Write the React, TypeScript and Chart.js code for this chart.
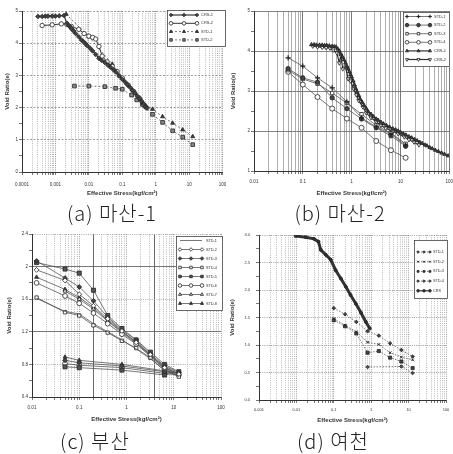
import React, { useEffect, useRef } from 'react';
import { Chart, registerables } from 'chart.js';
import { drawPoint } from 'chart.js/helpers';

Chart.register(...registerables);
Chart.defaults.font.family = "'Liberation Sans', Arial, sans-serif";
Chart.defaults.color = '#333';

// ---------------- (a) 마산-1 ----------------
const aXTickLabels = ['0.0001', '0.001', '0.01', '0.1', '1', '10', '100'];
const aYTickLabels = ['0', '1', '2', '3', '4', '5'];
const aCrs1X = [0.0003, 0.0004, 0.0005, 0.0006, 0.0008, 0.001, 0.0013, 0.0018, 0.0022, 0.0025, 0.0028, 0.003, 0.0035, 0.004, 0.005, 0.006, 0.007, 0.008, 0.009, 0.011, 0.013, 0.016, 0.02, 0.024, 0.03, 0.037, 0.045, 0.055, 0.065, 0.08, 0.1, 0.12, 0.14, 0.17, 0.2, 0.24, 0.28, 0.33, 0.38, 0.44, 0.5, 0.55];
const aCrs1Y = [4.83, 4.83, 4.84, 4.84, 4.84, 4.84, 4.85, 4.86, 4.62, 4.55, 4.5, 4.45, 4.38, 4.3, 4.2, 4.1, 4.04, 3.98, 3.92, 3.84, 3.76, 3.65, 3.53, 3.47, 3.4, 3.32, 3.25, 3.17, 3.1, 2.98, 2.88, 2.8, 2.72, 2.63, 2.54, 2.45, 2.36, 2.28, 2.2, 2.11, 2.03, 1.98];
const aCrs2X = [0.0004, 0.0008, 0.0015, 0.0022, 0.003, 0.005, 0.0072, 0.01, 0.013, 0.016, 0.02, 0.025, 0.035, 0.05, 0.07, 0.1, 0.15, 0.22, 0.32, 0.45, 0.5];
const aCrs2Y = [4.55, 4.57, 4.6, 4.58, 4.52, 4.43, 4.3, 4.22, 4.18, 4.13, 3.9, 3.6, 3.42, 3.28, 3.12, 2.92, 2.7, 2.5, 2.3, 2.08, 2.02];
const aStd1X = [0.0021, 0.01, 0.05, 0.2, 0.4, 0.8, 1.6, 3.2, 6.4, 12.8];
const aStd1Y = [4.9, 4.2, 3.35, 2.55, 2.15, 1.95, 1.72, 1.52, 1.31, 1.1];
const aStd2X = [0.0037, 0.01, 0.03, 0.063, 0.1, 0.19, 0.27, 0.4, 0.8, 1.6, 3.2, 6.4, 12.8];
const aStd2Y = [2.67, 2.67, 2.65, 2.6, 2.57, 2.39, 2.24, 2.1, 1.79, 1.54, 1.28, 1.08, 0.85];

// ---------------- (b) 마산-2 ----------------
const bXTickLabels = ['0.01', '0.1', '1', '10', '100'];
const bYTickLabels = ['1', '2', '3', '4', '5'];
const bStdX = [0.05, 0.1, 0.2, 0.4, 0.8, 1.6, 3.2, 6.4, 12.8];
const bStd1Y = [3.83, 3.62, 3.33, 3.08, 2.73, 2.33, 2.1, 1.93, 1.64];
const bStd2Y = [3.56, 3.33, 3.22, 2.83, 2.56, 2.3, 2.08, 1.88, 1.62];
const bStd3Y = [3.52, 3.3, 3.18, 2.95, 2.7, 2.42, 2.14, 1.95, 1.68];
const bStd4Y = [3.48, 3.16, 2.85, 2.56, 2.31, 2.08, 1.75, 1.52, 1.33];
const bCrs1X = [0.15, 0.17, 0.19, 0.22, 0.25, 0.28, 0.31, 0.35, 0.4, 0.44, 0.48, 0.52, 0.56, 0.6, 0.65, 0.7, 0.75, 0.8, 0.85, 0.9, 0.95, 1.0, 1.08, 1.15, 1.22, 1.3, 1.4, 1.5, 1.65, 1.8, 2.0, 2.2, 2.5, 2.8, 3.2, 3.5, 4, 4.5, 5.2, 6, 7, 8, 9, 10, 11.5, 13, 15, 17, 19.5, 22, 25, 28, 32, 35, 40, 45, 52, 60, 70, 80, 95];
const bCrs1Y = [4.16, 4.16, 4.15, 4.15, 4.15, 4.14, 4.14, 4.13, 4.12, 4.11, 4.1, 4.05, 4.0, 3.92, 3.85, 3.78, 3.7, 3.62, 3.55, 3.48, 3.41, 3.35, 3.25, 3.15, 3.06, 2.98, 2.89, 2.8, 2.72, 2.64, 2.56, 2.48, 2.42, 2.36, 2.3, 2.27, 2.22, 2.18, 2.14, 2.1, 2.06, 2.03, 2.0, 1.97, 1.93, 1.9, 1.86, 1.83, 1.79, 1.76, 1.72, 1.69, 1.65, 1.63, 1.59, 1.56, 1.52, 1.49, 1.45, 1.42, 1.38];
const bCrs2X = [0.16, 0.2, 0.25, 0.3, 0.36, 0.42, 0.5, 0.56, 0.6, 0.66, 0.75, 0.85, 0.95, 1.1, 1.25, 1.4, 1.7, 2.0, 2.5, 3.2, 4, 5, 7, 9, 12, 15, 19, 24];
const bCrs2Y = [4.12, 4.1, 4.09, 4.08, 4.07, 4.02, 3.95, 3.7, 3.9, 3.55, 3.6, 3.3, 3.25, 3.05, 2.9, 2.76, 2.6, 2.45, 2.33, 2.23, 2.14, 2.07, 1.99, 1.93, 1.85, 1.78, 1.72, 1.65];

// ---------------- (c) 부산 ----------------
const cXTickLabels = ['0.01', '0.1', '1', '10', '100'];
const cYTickLabels = ['0.4', '0.8', '1.2', '1.6', '2', '2.4'];
const cLoadX = [0.0125, 0.05, 0.1, 0.2, 0.4, 0.8, 1.6, 3.2, 6.4, 12.8];
const cUnloadX = [6.4, 0.8, 0.1, 0.05];
const cS1Y = [1.61, 1.45, 1.42, 1.3, 1.2, 1.1, 0.99, 0.87, 0.73, 0.66];
const cS2Y = [1.96, 1.83, 1.66, 1.52, 1.36, 1.21, 1.07, 0.92, 0.76, 0.68];
const cS3Y = [2.07, 1.86, 1.75, 1.58, 1.38, 1.22, 1.1, 0.93, 0.78, 0.7, 0.71, 0.78, 0.82, 0.85];
const cS4Y = [1.62, 1.44, 1.4, 1.28, 1.19, 1.09, 1.0, 0.88, 0.72, 0.65];
const cS5Y = [2.05, 1.97, 1.92, 1.71, 1.4, 1.24, 1.1, 0.95, 0.8, 0.71, 0.67, 0.73, 0.76, 0.77];
const cS6Y = [1.8, 1.64, 1.55, 1.43, 1.3, 1.17, 1.05, 0.9, 0.74, 0.67, 0.69, 0.76, 0.79, 0.81];
const cS7X = [0.05, 0.1, 0.2, 0.4, 0.8, 1.6, 3.2, 6.4, 12.8];
const cS7Y = [1.7, 1.6, 1.48, 1.33, 1.19, 1.06, 0.91, 0.77, 0.68];
const cS8Y = [1.87, 1.72, 1.62, 1.5, 1.34, 1.2, 1.08, 0.91, 0.75, 0.69, 0.72, 0.8, 0.85, 0.89];

// ---------------- (d) 여천 ----------------
const dXTickLabels = ['0.001', '0.01', '0.1', '1', '10', '100'];
const dYTickLabels = ['0.0', '0.5', '1.0', '1.5', '2.0', '2.5', '3.0'];
const dStdX = [0.1, 0.2, 0.4, 0.8, 1.6, 3.2, 6.4, 12.8];
const dStd1Y = [1.67, 1.56, 1.42, 1.25, 1.17, 1.03, 0.91, 0.79];
const dStd2Y = [1.48, 1.36, 1.24, 1.05, 1.01, 0.86, 0.78, 0.73];
const dStd3Y = [1.45, 1.34, 1.21, 0.86, 0.89, 0.77, 0.7, 0.58];
const dStd4X = [0.8, 6.4, 12.8];
const dStd4Y = [0.6, 0.61, 0.49];
const dCrsX = [0.0096, 0.0178, 0.0296, 0.0389, 0.0448, 0.061, 0.083, 0.112, 0.154, 0.21, 0.28, 0.39, 0.53, 0.72, 0.92];
const dCrsY = [2.98, 2.96, 2.93, 2.88, 2.73, 2.64, 2.55, 2.36, 2.21, 2.06, 1.91, 1.75, 1.59, 1.42, 1.3];

// ---------------- helpers ----------------
interface St { ps: any; r: number; fill: string; stroke?: string; lw: number; dash?: number[]; color?: string; rot?: number; pbw?: number }

function ds(label: string, xs: number[], ys: number[], s: St) {
  return {
    label,
    data: xs.map((x, i) => ({ x, y: ys[i] })),
    showLine: true,
    borderColor: s.color ?? '#333',
    backgroundColor: s.fill,
    borderWidth: s.lw,
    borderDash: s.dash ?? [],
    pointStyle: s.ps,
    pointRadius: s.r,
    pointHoverRadius: s.r,
    pointRotation: s.rot ?? 0,
    pointBackgroundColor: s.fill,
    pointBorderColor: s.stroke ?? '#222',
    pointBorderWidth: s.pbw ?? 0.8,
  };
}

function logTicks(decades: number[]) {
  const out: number[] = [];
  for (let i = 0; i < decades.length - 1; i++) {
    for (let m = 1; m <= 9; m++) out.push(+(m * decades[i]).toPrecision(3));
  }
  out.push(decades[decades.length - 1]);
  return out;
}
function isDecade(v: number, decades: number[]) {
  return decades.findIndex((d) => Math.abs(v / d - 1) < 1e-6);
}

interface LegendCfg { x: number; y: number; w: number; h: number; row0: number; rowH: number; x0: number; x1: number; tx: number; r: number; font: number }

function legendPlugin(cfg: LegendCfg) {
  return {
    id: 'boxLegend',
    afterDraw(chart: any) {
      const ctx = chart.ctx as CanvasRenderingContext2D;
      ctx.save();
      ctx.fillStyle = '#fff';
      ctx.fillRect(cfg.x, cfg.y, cfg.w, cfg.h);
      ctx.strokeStyle = '#444';
      ctx.lineWidth = 0.8;
      ctx.strokeRect(cfg.x + 0.5, cfg.y + 0.5, cfg.w - 1, cfg.h - 1);
      chart.data.datasets.forEach((d: any, i: number) => {
        const y = cfg.row0 + i * cfg.rowH;
        ctx.strokeStyle = d.borderColor;
        ctx.lineWidth = Math.min(d.borderWidth, 1.2);
        ctx.setLineDash(d.borderDash || []);
        ctx.beginPath();
        ctx.moveTo(cfg.x0, y);
        ctx.lineTo(cfg.x1, y);
        ctx.stroke();
        ctx.setLineDash([]);
        if (d.pointStyle) {
          [cfg.x0, (cfg.x0 + cfg.x1) / 2, cfg.x1].forEach((mx) => {
            ctx.fillStyle = d.pointBackgroundColor;
            ctx.strokeStyle = d.pointBorderColor;
            ctx.lineWidth = d.pointBorderWidth;
            drawPoint(ctx, { pointStyle: d.pointStyle, rotation: d.pointRotation, radius: cfg.r, borderWidth: d.pointBorderWidth }, mx, y);
          });
        }
        ctx.fillStyle = '#333';
        ctx.font = `${cfg.font}px 'Liberation Sans', Arial, sans-serif`;
        ctx.textBaseline = 'middle';
        ctx.textAlign = 'left';
        ctx.fillText(d.label, cfg.tx, y);
      });
      ctx.restore();
    },
  };
}

interface PanelDef {
  w: number; h: number;
  pad: { left: number; top: number; right: number; bottom: number };
  yWidth: number; xHeight: number;
  xLabels: string[]; yLabels: string[];
  xTickPad: number; yTickPad: number; tickFont: number;
  xGridColor: (v: number, dec: boolean) => string;
  xGridDash: (v: number, dec: boolean) => number[];
  yGridColor: (v: number) => string;
  yGridDash: (v: number) => number[];
  legend: LegendCfg;
  datasets: any[];
}

function buildConfig(p: PanelDef): any {
  const decades = p.xLabels.map(Number);
  const xTicks = logTicks(decades);
  const yMaj = p.yLabels.map(Number);
  const yTicks: number[] = [];
  yMaj.forEach((v, i) => {
    yTicks.push(v);
    if (i < yMaj.length - 1) yTicks.push(+((v + yMaj[i + 1]) / 2).toFixed(4));
  });
  const yIdx = (v: number) => yMaj.findIndex((m) => Math.abs(m - v) < 1e-6);
  return {
    type: 'scatter',
    data: { datasets: p.datasets },
    options: {
      animation: false,
      responsive: false,
      maintainAspectRatio: false,
      layout: { padding: p.pad },
      plugins: { legend: { display: false }, tooltip: { enabled: false } },
      scales: {
        x: {
          type: 'logarithmic',
          min: decades[0],
          max: decades[decades.length - 1],
          afterBuildTicks: (s: any) => { s.ticks = xTicks.map((v) => ({ value: v })); },
          afterFit: (s: any) => { s.height = p.xHeight; s.paddingLeft = 0; s.paddingRight = 0; },
          ticks: {
            autoSkip: false, maxRotation: 0, minRotation: 0,
            padding: p.xTickPad,
            font: { size: p.tickFont },
            color: '#333',
            callback: (v: any) => { const i = isDecade(Number(v), decades); return i >= 0 ? p.xLabels[i] : ''; },
          },
          grid: {
            tickLength: 3,
            tickColor: '#555',
            lineWidth: 0.8,
            color: (c: any) => (c.tick ? p.xGridColor(c.tick.value, isDecade(c.tick.value, decades) >= 0) : '#999'),
          },
          border: {
            color: '#333', width: 1,
            dash: (c: any) => (c.tick ? p.xGridDash(c.tick.value, isDecade(c.tick.value, decades) >= 0) : []),
          },
          title: { display: true, text: 'Effective Stress(kgf/cm²)', font: { size: 6, weight: 'bold' }, color: '#333', padding: 0 },
        },
        y: {
          type: 'linear',
          min: yMaj[0],
          max: yMaj[yMaj.length - 1],
          afterBuildTicks: (s: any) => { s.ticks = yTicks.map((v) => ({ value: v })); },
          afterFit: (s: any) => { s.width = p.yWidth; s.paddingTop = 0; s.paddingBottom = 0; },
          ticks: {
            padding: p.yTickPad,
            font: { size: p.tickFont },
            color: '#333',
            callback: (v: any) => { const i = yIdx(Number(v)); return i >= 0 ? p.yLabels[i] : ''; },
          },
          grid: {
            tickLength: 3,
            tickColor: '#555',
            lineWidth: 0.8,
            color: (c: any) => (c.tick && yIdx(c.tick.value) >= 0 ? p.yGridColor(c.tick.value) : 'rgba(0,0,0,0)'),
          },
          border: {
            color: '#333', width: 1,
            dash: (c: any) => (c.tick ? p.yGridDash(c.tick.value) : []),
          },
          title: { display: true, text: 'Void Ratio(e)', font: { size: 6, weight: 'bold' }, color: '#333', padding: 0 },
        },
      },
    },
    plugins: [legendPlugin(p.legend)],
  };
}

const DOT = [1, 1.2];

const panelA = (): PanelDef => ({
  w: 226, h: 200,
  pad: { left: 4, top: 11, right: 1, bottom: 3 },
  yWidth: 18, xHeight: 25,
  xLabels: aXTickLabels, yLabels: aYTickLabels,
  xTickPad: 7, yTickPad: 1, tickFont: 4.5,
  xGridColor: (_v, dec) => (dec ? '#777' : '#aaa'),
  xGridDash: () => DOT,
  yGridColor: () => '#888',
  yGridDash: () => [2, 1.5],
  legend: { x: 167, y: 10, w: 59, h: 37, row0: 15, rowH: 8.3, x0: 171, x1: 197, tx: 201, r: 1.8, font: 4 },
  datasets: [
    ds('CRS-1', aCrs1X, aCrs1Y, { ps: 'rectRot', r: 2.3, fill: '#444', lw: 1.2 }),
    ds('CRS-2', aCrs2X, aCrs2Y, { ps: 'circle', r: 2.2, fill: '#fff', lw: 1 }),
    ds('STD-1', aStd1X, aStd1Y, { ps: 'triangle', r: 2.3, fill: '#444', lw: 0.8, dash: [2, 2], color: '#555' }),
    ds('STD-2', aStd2X, aStd2Y, { ps: 'rect', r: 2.6, fill: '#888', lw: 0.8, dash: [2, 2], color: '#555' }),
  ],
});

const panelB = (): PanelDef => ({
  w: 227, h: 200,
  pad: { left: 4, top: 11, right: 3, bottom: 3 },
  yWidth: 24, xHeight: 26,
  xLabels: bXTickLabels, yLabels: bYTickLabels,
  xTickPad: 5, yTickPad: 1, tickFont: 4.5,
  xGridColor: (_v, dec) => (dec ? '#555' : '#999'),
  xGridDash: () => [],
  yGridColor: () => '#666',
  yGridDash: () => [],
  legend: { x: 177, y: 12, w: 47, h: 55, row0: 16.5, rowH: 8.6, x0: 181, x1: 204, tx: 208, r: 1.8, font: 4 },
  datasets: [
    ds('STD-1', bStdX, bStd1Y, { ps: 'cross', r: 2.6, fill: '#333', stroke: '#222', lw: 0.8, color: '#555', pbw: 1.2 }),
    ds('STD-2', bStdX, bStd2Y, { ps: 'circle', r: 2.2, fill: '#444', lw: 0.8, color: '#555' }),
    ds('STD-3', bStdX, bStd3Y, { ps: 'rect', r: 2.4, fill: '#fff', lw: 0.8, color: '#555' }),
    ds('STD-4', bStdX, bStd4Y, { ps: 'circle', r: 2.5, fill: '#fff', lw: 0.8, color: '#555' }),
    ds('CRS-1', bCrs1X, bCrs1Y, { ps: 'triangle', r: 2.2, fill: '#444', lw: 1.6, color: '#333' }),
    ds('CRS-2', bCrs2X, bCrs2Y, { ps: 'triangle', r: 2.2, fill: '#fff', lw: 1.2, color: '#333', rot: 180 }),
  ],
});

const cUX = [...cLoadX, ...cUnloadX];
const panelC = (): PanelDef => ({
  w: 226, h: 200,
  pad: { left: 6, top: 7, right: 5, bottom: 4 },
  yWidth: 26, xHeight: 26,
  xLabels: cXTickLabels, yLabels: cYTickLabels,
  xTickPad: 5, yTickPad: 1, tickFont: 4.5,
  xGridColor: (v, dec) => (Math.abs(v - 0.2) < 1e-9 || Math.abs(v - 4) < 1e-9 ? '#444' : dec ? '#888' : '#aaa'),
  xGridDash: (v) => (Math.abs(v - 0.2) < 1e-9 || Math.abs(v - 4) < 1e-9 ? [] : DOT),
  yGridColor: (v) => (Math.abs(v - 2) < 1e-6 || Math.abs(v - 1.2) < 1e-6 ? '#555' : '#999'),
  yGridDash: (v) => (Math.abs(v - 2) < 1e-6 || Math.abs(v - 1.2) < 1e-6 ? [] : DOT),
  legend: { x: 176, y: 9, w: 47, h: 75, row0: 13.5, rowH: 9, x0: 180, x1: 202, tx: 206, r: 1.8, font: 3.8 },
  datasets: [
    ds('STD-1', cLoadX, cS1Y, { ps: false, r: 0, fill: '#444', lw: 0.8, color: '#555' }),
    ds('STD-2', cLoadX, cS2Y, { ps: 'rectRot', r: 2.4, fill: '#fff', lw: 0.8, color: '#555' }),
    ds('STD-3', cUX, cS3Y, { ps: 'rectRot', r: 2.4, fill: '#444', lw: 0.8, color: '#555' }),
    ds('STD-4', cLoadX, cS4Y, { ps: 'rect', r: 2.4, fill: '#fff', lw: 0.8, color: '#555' }),
    ds('STD-5', cUX, cS5Y, { ps: 'rect', r: 2.9, fill: '#555', lw: 0.8, color: '#555' }),
    ds('STD-6', cUX, cS6Y, { ps: 'circle', r: 2.4, fill: '#fff', lw: 0.8, color: '#555' }),
    ds('STD-7', cS7X, cS7Y, { ps: 'triangle', r: 2.3, fill: '#fff', lw: 0.8, color: '#555' }),
    ds('STD-8', cUX, cS8Y, { ps: 'triangle', r: 2.3, fill: '#444', lw: 0.8, color: '#555' }),
  ],
});

const panelD = (): PanelDef => ({
  w: 227, h: 200,
  pad: { left: 3, top: 8, right: 7, bottom: 3 },
  yWidth: 30, xHeight: 24,
  xLabels: dXTickLabels, yLabels: dYTickLabels,
  xTickPad: 4, yTickPad: 6, tickFont: 4,
  xGridColor: (_v, dec) => (dec ? '#888' : '#aaa'),
  xGridDash: () => DOT,
  yGridColor: () => '#888',
  yGridDash: () => DOT,
  legend: { x: 188, y: 13, w: 34, h: 59, row0: 25, rowH: 9.7, x0: 192, x1: 204, tx: 207, r: 1.3, font: 3.8 },
  datasets: [
    ds('STD-1', dStdX, dStd1Y, { ps: 'rectRot', r: 1.8, fill: '#444', lw: 0.8, dash: [1.5, 1.5], color: '#555' }),
    ds('STD-2', dStdX, dStd2Y, { ps: 'crossRot', r: 1.8, fill: '#444', lw: 0.8, dash: [1.5, 1.5], color: '#555', pbw: 1 }),
    ds('STD-3', dStdX, dStd3Y, { ps: 'rect', r: 2.2, fill: '#444', lw: 0.8, dash: [1.5, 1.5], color: '#555' }),
    ds('STD-4', dStd4X, dStd4Y, { ps: 'rectRot', r: 1.8, fill: '#555', lw: 0.8, dash: [1.5, 1.5], color: '#555' }),
    ds('CRS', dCrsX, dCrsY, { ps: 'circle', r: 1.5, fill: '#333', lw: 3, color: '#333' }),
  ],
});

function Panel({ left, top, def }: { left: number; top: number; def: () => PanelDef }) {
  const ref = useRef<HTMLCanvasElement>(null);
  const d = def();
  useEffect(() => {
    const chart = new Chart(ref.current!, buildConfig(def()));
    return () => chart.destroy();
  }, []);
  return (
    <canvas
      ref={ref}
      width={d.w}
      height={d.h}
      style={{ position: 'absolute', left, top, width: d.w, height: d.h }}
    />
  );
}

function Caption({ cx, cy, text }: { cx: number; cy: number; text: string }) {
  return (
    <div
      style={{
        position: 'absolute', left: cx - 80, top: cy - 14, width: 160, height: 28,
        textAlign: 'center', fontSize: 20, lineHeight: '28px', letterSpacing: 1,
        fontFamily: "'Noto Sans CJK KR', 'Noto Sans', sans-serif", fontWeight: 300, color: '#222',
      }}
    >
      {text}
    </div>
  );
}

export default function App() {
  return (
    <div style={{ position: 'absolute', left: 0, top: 0, width: 453, height: 454, background: '#fff', overflow: 'hidden' }}>
      <Panel left={0} top={0} def={panelA} />
      <Panel left={226} top={0} def={panelB} />
      <Panel left={0} top={227} def={panelC} />
      <Panel left={226} top={227} def={panelD} />
      <Caption cx={112} cy={213} text="(a) 마산-1" />
      <Caption cx={340} cy={213} text="(b) 마산-2" />
      <Caption cx={95} cy={441} text="(c) 부산" />
      <Caption cx={333} cy={441} text="(d) 여천" />
    </div>
  );
}
